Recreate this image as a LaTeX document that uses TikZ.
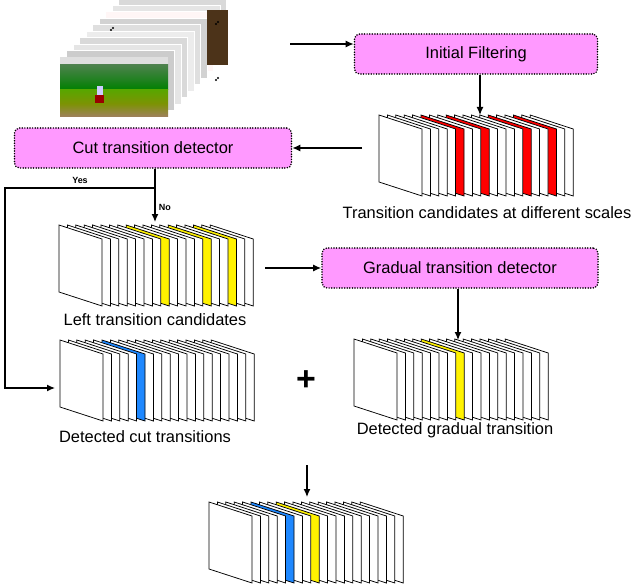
\documentclass[tikz,border=0pt]{standalone}
\usepackage{fontspec}
\setmainfont{Liberation Sans}
\usetikzlibrary{arrows.meta}
\begin{document}
\begin{tikzpicture}[x=1bp,y=-1bp,
  box/.style={draw=black,line width=1.7pt,line cap=round,dash pattern=on 0pt off 2.6pt,fill=boxpink,rounded corners=5bp,minimum height=40bp,font=\fontsize{16.5}{18}\selectfont},
  arr/.style={-{Latex[length=8bp,width=7bp]},line width=1.3pt},
  lbl/.style={font=\fontsize{16.5}{18}\selectfont},
  sm/.style={font=\fontsize{9}{10}\selectfont\bfseries},
  fr/.style={draw=black,line width=0.75pt}]
\useasboundingbox (0,0) rectangle (640,587);
\definecolor{boxpink}{HTML}{FF99FF}
\definecolor{cblue}{HTML}{1E88FF}
\newcommand\drawstack[3]{%
  \foreach \i in {18,...,0}{
    \xdef\thec{white}
    \foreach \k/\c in {#3}{\ifnum\i=\k\relax\xdef\thec{\c}\fi}
    \pgfmathsetmacro\xx{#1+8.4*\i}
    \filldraw[fr,fill=\thec] (\xx,#2) -- ++(43,14) -- ++(0,67) -- ++(-43,-14) -- cycle;
  }}
% photo stack
\foreach \j/\c in {9/gray!30,8/gray!20,7/pink!15,6/gray!35,5/gray!25,4/gray!15,3/gray!30,2/gray!20,1/gray!40}{
  \fill[\c] (60+6.5*\j,57-6.5*\j) rectangle ++(108,60);
  \draw[white,line width=0.4pt] (60+6.5*\j,57-6.5*\j) rectangle ++(108,60);
}
\fill[black!60!brown] (207,10) rectangle (228,65);
\foreach \p in {(111,30),(113,28),(216,24),(218,22),(216,80),(218,78)} \fill \p circle (1.1);
\fill[gray!25] (60,57) rectangle (168,65);
\shade[top color=green!30!black!70,bottom color=green!50!black] (60,65) rectangle (168,90);
\shade[top color=olive!70!green,bottom color=brown!50!gray] (60,90) rectangle (168,117);
\fill[red!60!black] (95,95) rectangle (104,103);
\fill[white!80!blue] (97,86) rectangle (103,95);
\node (photo) at (114,58) {};
% boxes
\node[box,minimum width=243bp] (init) at (476,54) {Initial Filtering};
\node[box,minimum width=277bp] (cut) at (153,148) {Cut transition detector};
\node[box,minimum width=276bp] (grad) at (460,268) {Gradual transition detector};
% stacks
\drawstack{379}{115}{5/red,8/red,13/red,16/red}
\drawstack{59}{225}{8/yellow,13/yellow,16/yellow}
\drawstack{60}{340}{5/cblue}
\drawstack{354}{339}{8/yellow}
\drawstack{209}{502}{5/cblue,8/yellow}
% labels
\node[lbl] (l1) at (487,213) {Transition candidates at different scales};
\node[lbl] (l2) at (155,320) {Left transition candidates};
\node[lbl] (l3) at (145,437) {Detected cut transitions};
\node[lbl] (l4) at (455,430) {Detected gradual transition};
\node[font=\fontsize{34}{34}\selectfont\bfseries] (plus) at (306,381) {+};
% coordinates
\coordinate (a1) at (290,44);
\coordinate (s1top) at (480,115);
\coordinate (s1r) at (362,148);
\coordinate (s2top) at (155,222);
\coordinate (yesj) at (155,188);
\coordinate (yl) at (5,188);
\coordinate (yb) at (5,388);
\coordinate (s3l) at (55,388);
\coordinate (s2r) at (265,268);
\coordinate (s4top) at (458,340);
\coordinate (d1) at (307,465);
\coordinate (s5top) at (307,497);
% arrows
\draw[arr] (a1) -- (a1 -| init.west);
\draw[arr] (init.south -| s1top) -- (s1top);
\draw[arr] (s1r) -- (cut.east |- s1r);
\draw[arr] (cut.south -| s2top) -- node[right,sm,pos=0.72]{No} (s2top);
\draw[arr] (yesj) -- node[above,sm,pos=0.5]{Yes} (yl) -- (yb) -- (s3l);
\draw[arr] (s2r) -- (grad.west |- s2r);
\draw[arr] (grad.south -| s4top) -- (s4top);
\draw[arr] (d1) -- (s5top);
\end{tikzpicture}
\end{document}
